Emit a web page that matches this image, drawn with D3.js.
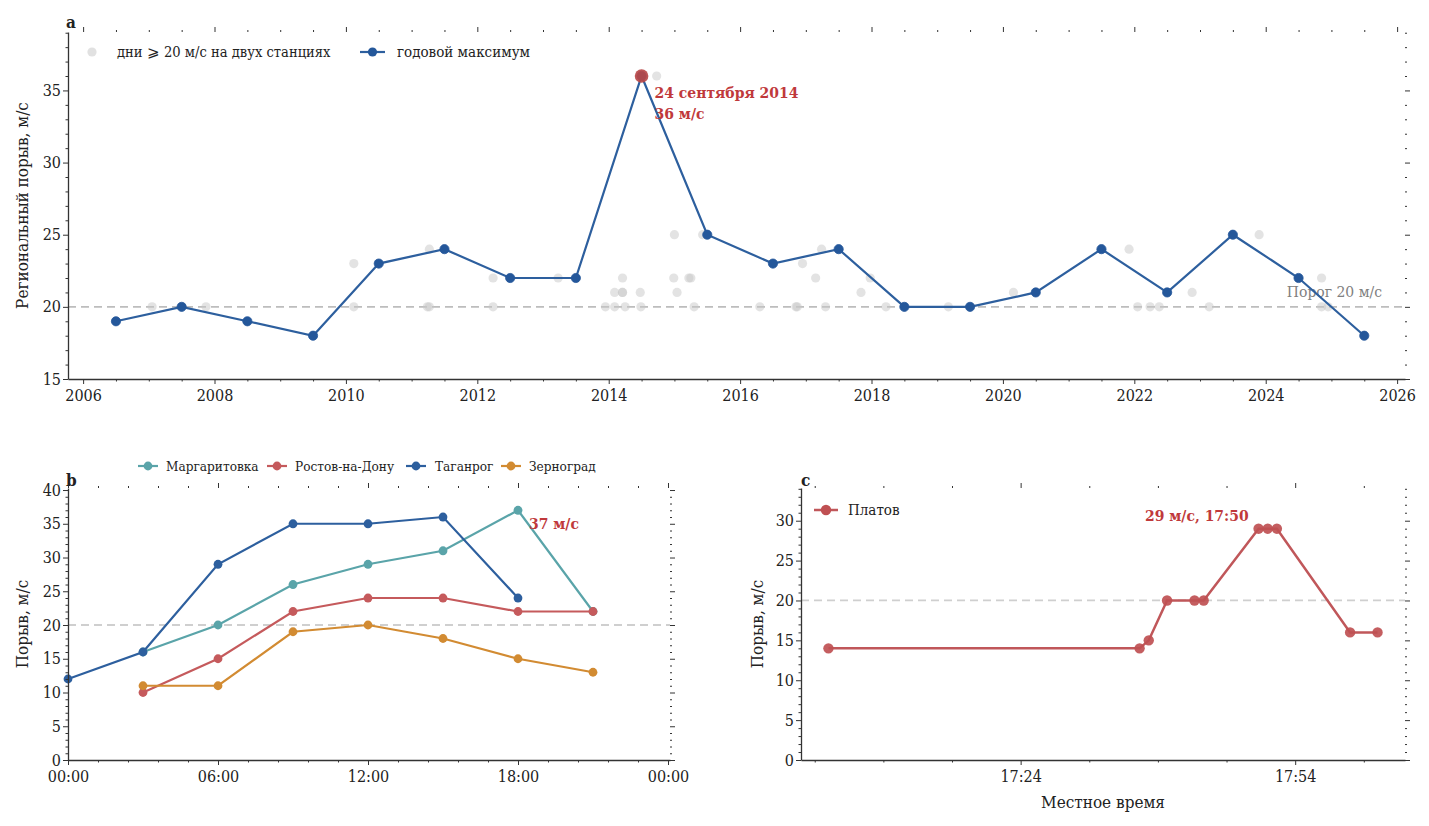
<!DOCTYPE html>
<html><head><meta charset="utf-8">
<script src="https://cdn.jsdelivr.net/npm/d3@7/dist/d3.min.js"></script>
<style>
body{margin:0;background:#fff;}
svg text{font-family:"DejaVu Serif Condensed","DejaVu Serif",serif;fill:#222;}
.tick text{font-size:16px;}
</style></head>
<body><svg id="c" width="1429" height="826"></svg>
<script>
// ---------- DATA ----------
// Panel a
const yearsA = [2006.5,2007.5,2008.5,2009.5,2010.5,2011.5,2012.5,2013.5,2014.5,2015.5,2016.5,2017.5,2018.5,2019.5,2020.5,2021.5,2022.5,2023.5,2024.5,2025.5];
const annualMax = [19,20,19,18,23,24,22,22,36,25,23,24,20,20,21,24,21,25,22,18];
const eventYears = [2007.05,2007.87,2010.12,2010.12,2011.27,2011.24,2011.27,2012.24,2012.24,2013.23,
  2013.95,2014.09,2014.09,2014.21,2014.21,2014.21,2014.25,2014.48,2014.49,2014.73,
  2014.99,2015.0,2015.04,2015.22,2015.25,2015.30,2015.43,2016.30,2016.85,2016.87,
  2016.95,2017.15,2017.24,2017.30,2017.84,2017.98,2018.22,2019.17,2020.16,2021.92,
  2022.05,2022.24,2022.38,2022.88,2023.14,2023.90,2024.85,2024.85,2024.95];
const eventGust = [20,20,23,20,24,20,20,22,20,22,
  20,21,20,22,21,21,20,21,20,36,
  22,25,21,22,22,20,25,20,20,20,
  23,22,24,20,21,22,20,20,21,24,
  20,20,20,21,20,25,22,20,20];
const yearTicks = [2006,2008,2010,2012,2014,2016,2018,2020,2022,2024,2026];
const peakYear = 2014.5, peakGust = 36;
const peakLabel = ["24 сентября 2014","36 м/с"];
const threshold = 20;
// Panel b (hours of 24 Sept 2014)
const hoursB = [0,3,6,9,12,15,18,21];
const stationNames = ["Маргаритовка","Ростов-на-Дону","Таганрог","Зерноград"];
const margaritovka = [null,16,20,26,29,31,37,22];
const rostov = [null,10,15,22,24,24,22,22];
const taganrog = [12,16,29,35,35,36,24,null];
const zernograd = [null,11,11,19,20,18,15,13];
const hourTicks = ["00:00","06:00","12:00","18:00","00:00"];
// Panel c
const platovTimes = ["17:03","17:37","17:38","17:40","17:43","17:44","17:50","17:51","17:52","18:00","18:03"];
const platovGust = [14,14,15,20,20,20,29,29,29,16,16];
const timeTicksC = ["17:24","17:54"];

// ---------- HELPERS ----------
const svg = d3.select("#c");
const axisColor = "#333";
function styleAxis(g){
  g.selectAll(".domain").attr("stroke",axisColor).attr("stroke-width",1.3);
  g.selectAll(".tick line").attr("stroke",axisColor).attr("stroke-width",1);
  g.selectAll(".tick text").attr("fill","#222");
}
function frame(x, y, left, right, top, bottom, xMajor, xMinor, yMajor, yMinor, xFmt, yFmt){
  const gb = svg.append("g").attr("transform",`translate(0,${bottom})`)
    .call(d3.axisBottom(x).tickValues(xMajor).tickFormat(xFmt).tickSize(5).tickSizeOuter(0).tickPadding(6));
  styleAxis(gb);
  const gbm = svg.append("g").attr("transform",`translate(0,${bottom})`)
    .call(d3.axisBottom(x).tickValues(xMinor).tickFormat("").tickSize(2.5));
  gbm.select(".domain").remove(); styleAxis(gbm);
  const gl = svg.append("g").attr("transform",`translate(${left},0)`)
    .call(d3.axisLeft(y).tickValues(yMajor).tickFormat(yFmt).tickSize(5).tickSizeOuter(0).tickPadding(2));
  styleAxis(gl);
  const glm = svg.append("g").attr("transform",`translate(${left},0)`)
    .call(d3.axisLeft(y).tickValues(yMinor).tickFormat("").tickSize(2.5));
  glm.select(".domain").remove(); styleAxis(glm);
  const gt = svg.append("g").attr("transform",`translate(0,${top})`)
    .call(d3.axisTop(x).tickValues(xMajor).tickFormat("").tickSize(5));
  gt.select(".domain").remove(); styleAxis(gt);
  const gtm = svg.append("g").attr("transform",`translate(0,${top})`)
    .call(d3.axisTop(x).tickValues(xMinor).tickFormat("").tickSize(2));
  gtm.select(".domain").remove(); styleAxis(gtm);
  const gr = svg.append("g").attr("transform",`translate(${right},0)`)
    .call(d3.axisRight(y).tickValues(yMajor).tickFormat("").tickSize(5));
  gr.select(".domain").remove(); styleAxis(gr);
  const grm = svg.append("g").attr("transform",`translate(${right},0)`)
    .call(d3.axisRight(y).tickValues(yMinor).tickFormat("").tickSize(2));
  grm.select(".domain").remove(); styleAxis(grm);
}
function range(a,b,s){const r=[];for(let v=a;v<=b+1e-9;v+=s)r.push(+v.toFixed(4));return r;}

// ---------- PANEL A ----------
{
  const L=68,R=1405,T=32,B=379;
  const x = d3.scaleLinear().domain([2005.77,2026.12]).range([L,R]);
  const y = d3.scaleLinear().domain([15,39.05]).range([B,T]);
  svg.append("line").attr("x1",L).attr("x2",R).attr("y1",y(threshold)).attr("y2",y(threshold))
    .attr("stroke","#bdbdbd").attr("stroke-width",1.8).attr("stroke-dasharray","8,5");
  svg.append("text").attr("x",1382).attr("y",y(threshold)-10).attr("text-anchor","end")
    .attr("font-size",15.5).style("fill","#808080").text("Порог 20 м/с");
  svg.append("g").selectAll("circle").data(eventYears).join("circle")
    .attr("cx",(d)=>x(d)).attr("cy",(d,i)=>y(eventGust[i])).attr("r",4.6)
    .attr("fill","#c8c8c8").attr("fill-opacity",0.5);
  const line = d3.line().x((d,i)=>x(yearsA[i])).y(d=>y(d));
  svg.append("path").datum(annualMax).attr("d",line).attr("fill","none")
    .attr("stroke","#2d5f9e").attr("stroke-width",2.2);
  svg.append("g").selectAll("circle").data(annualMax).join("circle")
    .attr("cx",(d,i)=>x(yearsA[i])).attr("cy",d=>y(d)).attr("r",4.6)
    .attr("fill","#24579a").attr("stroke","#24579a").attr("stroke-width",0.8);
  svg.append("circle").attr("cx",x(peakYear)).attr("cy",y(peakGust)).attr("r",6.8)
    .attr("fill","#b84848").attr("fill-opacity",0.92);
  peakLabel.forEach((t,i)=>{
    svg.append("text").attr("x",x(peakYear)+13).attr("y",y(peakGust)+22+i*21)
      .attr("font-size",15.5).attr("font-weight","bold").style("fill","#c0393b").text(t);
  });
  frame(x,y,L,R,T,B,yearTicks,range(2006,2026,0.5).filter(v=>v%2!==0),
    [15,20,25,30,35],range(15,39,1).filter(v=>v%5!==0),d3.format("d"),d3.format("d"));
  svg.append("circle").attr("cx",92).attr("cy",52).attr("r",4.6).attr("fill","#c8c8c8").attr("fill-opacity",0.55);
  svg.append("text").attr("x",117).attr("y",57).attr("font-size",14.6).text("дни ⩾ 20 м/с на двух станциях");
  svg.append("line").attr("x1",360).attr("x2",385).attr("y1",52).attr("y2",52).attr("stroke","#2d5f9e").attr("stroke-width",2.2);
  svg.append("circle").attr("cx",372.5).attr("cy",52).attr("r",4.6).attr("fill","#24579a");
  svg.append("text").attr("x",397).attr("y",57).attr("font-size",15).text("годовой максимум");
  svg.append("text").attr("x",22).attr("y",(T+B)/2).attr("text-anchor","middle")
    .attr("transform",`rotate(-90,22,${(T+B)/2})`).attr("dy","0.35em").attr("font-size",17).text("Региональный порыв, м/с");
  svg.append("text").attr("x",66).attr("y",28).attr("font-size",17).attr("font-weight","bold").text("a");
}

// ---------- PANEL B ----------
{
  const L=68,R=670,T=488,B=760;
  const day0 = new Date(2014,8,24,0,0);
  const toDate = h => new Date(day0.getTime()+h*3600e3);
  const x = d3.scaleTime().domain([toDate(0),toDate(24.08)]).range([L,R]);
  const y = d3.scaleLinear().domain([0,40.3]).range([B,T]);
  svg.append("line").attr("x1",L).attr("x2",R).attr("y1",y(threshold)).attr("y2",y(threshold))
    .attr("stroke","#cfcfcf").attr("stroke-width",1.8).attr("stroke-dasharray","8,5");
  const series = [margaritovka,rostov,taganrog,zernograd];
  const colors = ["#5aa4a9","#c55a5c","#2d5f9e","#d28b32"];
  const line = d3.line().defined(d=>d!=null).x((d,i)=>x(toDate(hoursB[i]))).y(d=>y(d));
  series.forEach((s,k)=>{
    svg.append("path").datum(s).attr("d",line).attr("fill","none").attr("stroke",colors[k]).attr("stroke-width",2.2);
    svg.append("g").selectAll("circle").data(s.map((v,i)=>[hoursB[i],v]).filter(d=>d[1]!=null)).join("circle")
      .attr("cx",d=>x(toDate(d[0]))).attr("cy",d=>y(d[1])).attr("r",4.4).attr("fill",colors[k]);
  });
  svg.append("text").attr("x",x(toDate(18))+11).attr("y",y(37)+19).attr("font-size",15.5).attr("font-weight","bold")
    .style("fill","#c0393b").text("37 м/с");
  const maj = hourTicks.map((t,i)=>toDate(i*6));
  const minorH = range(0,24,1.2).filter(h=>Math.abs(h/6-Math.round(h/6))>1e-6);
  frame(x,y,L,R,T,B,maj,minorH.map(toDate),[0,5,10,15,20,25,30,35,40],range(0,40,1).filter(v=>v%5!==0),
    (d,i)=>hourTicks[i],d3.format("d"));
  const lx = [138,267,406,501], tx=[166,295,435,529];
  stationNames.forEach((n,k)=>{
    svg.append("line").attr("x1",lx[k]).attr("x2",lx[k]+20).attr("y1",466).attr("y2",466).attr("stroke",colors[k]).attr("stroke-width",2.2);
    svg.append("circle").attr("cx",lx[k]+10).attr("cy",466).attr("r",4.4).attr("fill",colors[k]);
    svg.append("text").attr("x",tx[k]).attr("y",471).attr("font-size",13.5).text(n);
  });
  svg.append("text").attr("x",22).attr("y",(T+B)/2).attr("text-anchor","middle").attr("dy","0.35em")
    .attr("transform",`rotate(-90,22,${(T+B)/2})`).attr("font-size",17).text("Порыв, м/с");
  svg.append("text").attr("x",66).attr("y",486).attr("font-size",17).attr("font-weight","bold").text("b");
}

// ---------- PANEL C ----------
{
  const L=801,R=1405,T=488,B=760;
  const parse = s => { const [h,m]=s.split(":").map(Number); return new Date(2014,8,24,h,m); };
  const x = d3.scaleTime().domain([parse("17:00"),parse("18:06")]).range([L,R]);
  const y = d3.scaleLinear().domain([0,34.1]).range([B,T]);
  svg.append("line").attr("x1",L).attr("x2",R).attr("y1",y(threshold)).attr("y2",y(threshold))
    .attr("stroke","#cfcfcf").attr("stroke-width",1.8).attr("stroke-dasharray","8,5");
  const pts = platovTimes.map((t,i)=>[parse(t),platovGust[i]]);
  svg.append("path").datum(pts).attr("d",d3.line().x(d=>x(d[0])).y(d=>y(d[1]))).attr("fill","none")
    .attr("stroke","#c0575a").attr("stroke-width",2.5);
  svg.append("g").selectAll("circle").data(pts).join("circle")
    .attr("cx",d=>x(d[0])).attr("cy",d=>y(d[1])).attr("r",5.2).attr("fill","#bf5052").attr("fill-opacity",0.92);
  svg.append("text").attr("x",1145).attr("y",521).attr("font-size",15.5).attr("font-weight","bold")
    .style("fill","#c0393b").text("29 м/с, 17:50");
  const maj = timeTicksC.map(parse);
  const base = parse("17:24").getTime();
  const minor = [-3,-2,-1,1,2,3,5].map(k=>new Date(base+k*7.5*60e3));
  frame(x,y,L,R,T,B,maj,minor,[0,5,10,15,20,25,30],range(0,34,1).filter(v=>v%5!==0),
    (d,i)=>timeTicksC[i],d3.format("d"));
  svg.append("line").attr("x1",814).attr("x2",838).attr("y1",510).attr("y2",510).attr("stroke","#c0575a").attr("stroke-width",2.5);
  svg.append("circle").attr("cx",826).attr("cy",510).attr("r",5.2).attr("fill","#bf5052");
  svg.append("text").attr("x",848).attr("y",515).attr("font-size",15).text("Платов");
  svg.append("text").attr("x",(L+R)/2).attr("y",808).attr("text-anchor","middle").attr("font-size",17).text("Местное время");
  svg.append("text").attr("x",757).attr("y",(T+B)/2).attr("text-anchor","middle").attr("dy","0.35em")
    .attr("transform",`rotate(-90,757,${(T+B)/2})`).attr("font-size",17).text("Порыв, м/с");
  svg.append("text").attr("x",801).attr("y",486).attr("font-size",17).attr("font-weight","bold").text("c");
}
</script></body></html>
